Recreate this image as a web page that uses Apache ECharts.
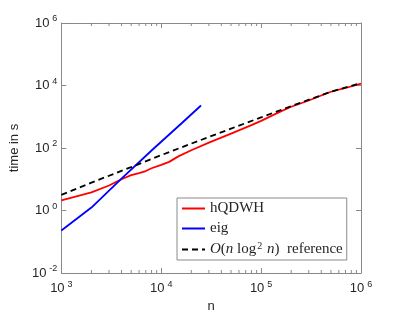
<!DOCTYPE html>
<html>
<head>
<meta charset="utf-8">
<script src="https://cdn.jsdelivr.net/npm/echarts@6/dist/echarts.min.js"></script>
<style>
html,body{margin:0;padding:0;background:#fff;}
#c{width:399px;height:318px;}
</style>
</head>
<body>
<div id="c"></div>
<script>
// ---- data ----
const hqdwhN = [1000,2000,3000,4000,5000,6000,7000,8000,10000,12000,15000,20000,30000,50000,80000,100000,150000,200000,300000,400000,500000,700000,1000000];
const hqdwhT = [2.1,3.8,6.3,10,13.5,15.8,18.3,22.5,29,36,55,85,148,288,537,741,1380,2090,3310,4790,6310,8320,11500];
const eigN = [1000,2000,4000,8000,16000,25000];
const eigT = [0.23,1.24,10.5,83,620,2290];
const refN = [1000,2000,5000,10000,20000,50000,100000,200000,500000,1000000];
const refT = [3.16,7.8,24.5,59,138,417,955,2190,6310,12000];
const xMinorTicks = [2000,3000,4000,5000,6000,7000,8000,9000,20000,30000,40000,50000,60000,70000,80000,90000,200000,300000,400000,500000,600000,700000,800000,900000];
const seriesNames = ['hQDWH','eig','ref'];

const axisGrey = '#8a8a8a';
const textCol = '#262626';
const sans = 'Liberation Sans, Arial, Helvetica, sans-serif';
const serif = 'Liberation Serif, Times New Roman, serif';

function powLabel(v){
  const e = Math.round(Math.log10(v));
  return '{b|10}{s|' + (e < 0 ? '-' + (-e) : e) + '}';
}
const labelRich = {
  b: {fontSize: 13, fontFamily: sans, color: textCol, lineHeight: 17},
  s: {fontSize: 9, fontFamily: sans, color: textCol, verticalAlign: 'top', padding: [0,0,0,3], lineHeight: 10}
};

const chart = echarts.init(document.getElementById('c'), null, {renderer: 'canvas'});
const xMin = 1000, xMax = 1000000, yMin = 0.01, yMax = 1000000;

function zip(a, b){ return a.map((v, i) => [v, b[i]]); }

const option = {
  backgroundColor: '#fff',
  animation: false,
  grid: {left: 54, right: 38, top: 23, bottom: 45},
  xAxis: [{
    type: 'log', logBase: 10, min: xMin, max: xMax, interval: 1,
    name: 'n', nameLocation: 'middle', nameGap: 25,
    nameTextStyle: {fontSize: 13, fontFamily: sans, color: textCol},
    axisLine: {show: true, lineStyle: {color: axisGrey, width: 1}},
    axisTick: {show: true, inside: true, length: 5, lineStyle: {color: axisGrey}},
    axisLabel: {formatter: powLabel, rich: labelRich, margin: 7},
    splitLine: {show: false}
  },{
    type: 'log', logBase: 10, min: xMin, max: xMax, interval: 1, position: 'top',
    axisLine: {show: true, lineStyle: {color: axisGrey, width: 1}},
    axisTick: {show: true, inside: true, length: 5, lineStyle: {color: axisGrey}},
    axisLabel: {show: false}, splitLine: {show: false}
  }],
  yAxis: [{
    type: 'log', logBase: 10, min: yMin, max: yMax, interval: 2,
    name: 'time in s', nameLocation: 'middle', nameGap: 40,
    nameTextStyle: {fontSize: 13, fontFamily: sans, color: textCol},
    axisLine: {show: true, lineStyle: {color: axisGrey, width: 1}},
    axisTick: {show: true, inside: true, length: 5, lineStyle: {color: axisGrey}},
    axisLabel: {formatter: powLabel, rich: labelRich, margin: 4},
    splitLine: {show: false}
  },{
    type: 'log', logBase: 10, min: yMin, max: yMax, interval: 2, position: 'right',
    axisLine: {show: true, lineStyle: {color: axisGrey, width: 1}},
    axisTick: {show: true, inside: true, length: 5, lineStyle: {color: axisGrey}},
    axisLabel: {show: false}, splitLine: {show: false}
  }],
  legend: {
    orient: 'vertical', left: 177, top: 198,
    data: seriesNames,
    backgroundColor: '#fff', borderColor: axisGrey, borderWidth: 1,
    padding: [3, 4, 3, 4],
    itemWidth: 23, itemHeight: 14, itemGap: 5,
    itemStyle: {opacity: 0},
    textStyle: {
      fontFamily: serif, fontSize: 15, color: textCol,
      rich: {
        r: {fontFamily: serif, fontSize: 15, color: textCol, lineHeight: 17},
        i: {fontFamily: serif, fontSize: 15, fontStyle: 'italic', color: textCol, lineHeight: 17},
        sup: {fontFamily: serif, fontSize: 10, color: textCol, verticalAlign: 'top', lineHeight: 11, padding: [0,1,0,1]}
      }
    },
    formatter: function(name){
      if (name === 'ref') return '{i|O}{r|(}{i|n}{r| log}{sup|2}{r| }{i|n}{r|)  reference}';
      return '{r|' + name + '}';
    }
  },
  series: [
    {
      name: 'hQDWH', type: 'line', xAxisIndex: 0, yAxisIndex: 0,
      data: zip(hqdwhN, hqdwhT), symbol: 'none', smooth: false,
      lineStyle: {color: '#ff0000', width: 1.8}, itemStyle: {color: '#ff0000'}
    },
    {
      name: 'eig', type: 'line', xAxisIndex: 0, yAxisIndex: 0,
      data: zip(eigN, eigT), symbol: 'none',
      lineStyle: {color: '#0000ff', width: 1.8}, itemStyle: {color: '#0000ff'}
    },
    {
      name: 'ref', type: 'line', xAxisIndex: 0, yAxisIndex: 0,
      data: zip(refN, refT), symbol: 'none',
      lineStyle: {color: '#000000', width: 1.8, type: [6, 4]}, itemStyle: {color: '#000000'}
    },
    {
      name: 'minorTicks', type: 'custom', xAxisIndex: 0, yAxisIndex: 0,
      data: xMinorTicks.map(v => [v, yMin]),
      silent: true, z: 1,
      renderItem: function(params, api){
        const x = api.value(0);
        const b = api.coord([x, yMin]);
        const t = api.coord([x, yMax]);
        const style = {stroke: axisGrey, lineWidth: 1};
        return {type: 'group', children: [
          {type: 'line', shape: {x1: b[0], y1: b[1], x2: b[0], y2: b[1] - 3}, style: style},
          {type: 'line', shape: {x1: t[0], y1: t[1], x2: t[0], y2: t[1] + 3}, style: style}
        ]};
      }
    }
  ]
};
chart.setOption(option);
</script>
</body>
</html>
